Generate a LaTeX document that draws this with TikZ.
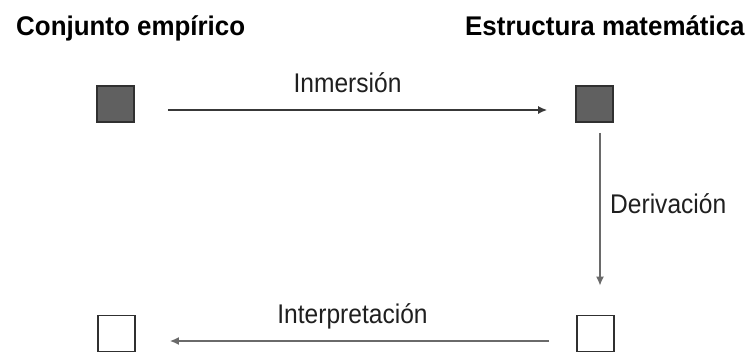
\documentclass[tikz,border=0pt]{standalone}
\usepackage{fontspec}
\setmainfont{Liberation Sans}[FakeStretch=0.91]
\newfontfamily\titlefont{Liberation Sans}[FakeStretch=0.96]
\usetikzlibrary{arrows.meta}
\definecolor{boxfill}{HTML}{606060}
\definecolor{boxline}{HTML}{303030}
\definecolor{arrdark}{HTML}{383838}
\definecolor{arrgray}{HTML}{6A6A6A}
\begin{document}
\begin{tikzpicture}[x=1pt,y=-1pt,
  sq/.style={draw=boxline,line width=1.6pt,minimum width=37pt,minimum height=36pt,inner sep=0pt},
  full/.style={sq,fill=boxfill},
  empty/.style={sq,fill=white},
  title/.style={font=\titlefont\fontsize{27}{30}\selectfont\bfseries,anchor=base west,inner sep=0pt,text=black},
  lab/.style={font=\fontsize{27}{30}\selectfont,inner sep=0pt,text=black!88},
  conn/.style={-{Latex[length=9pt,width=8pt]},line width=1.6pt}
]
\useasboundingbox[fill=white] (0,0) rectangle (746,354);
\node[title] (t1) at (16,35) {Conjunto empírico};
\node[title] (t2) at (465,35) {Estructura matemática};
\node[full] (tl) at (115.5,104) {};
\node[full] (tr) at (594.5,104) {};
\node[empty] (bl) at (116.5,333.5) {};
\node[empty] (br) at (595.5,333.5) {};
\draw[conn,draw=arrdark,fill=arrdark,shorten <=33pt,shorten >=28pt] ([yshift=-6pt]tl.east) -- ([yshift=-6pt]tr.west);
\draw[conn,draw=arrgray,line width=2.2pt,shorten <=10pt,shorten >=29pt] ([xshift=5.5pt]tr.south) -- ([xshift=4.5pt]br.north);
\draw[conn,draw=arrgray,line width=2pt,shorten <=27pt,shorten >=34pt] ([yshift=-7.5pt]br.west) -- ([yshift=-7.5pt]bl.east);
\node[lab,anchor=base] (l1) at (347.5,92) {Inmersión};
\node[lab,anchor=base west] (l2) at (610,213) {Derivación};
\node[lab,anchor=base] (l3) at (352.5,323) {Interpretación};
\end{tikzpicture}
\end{document}
